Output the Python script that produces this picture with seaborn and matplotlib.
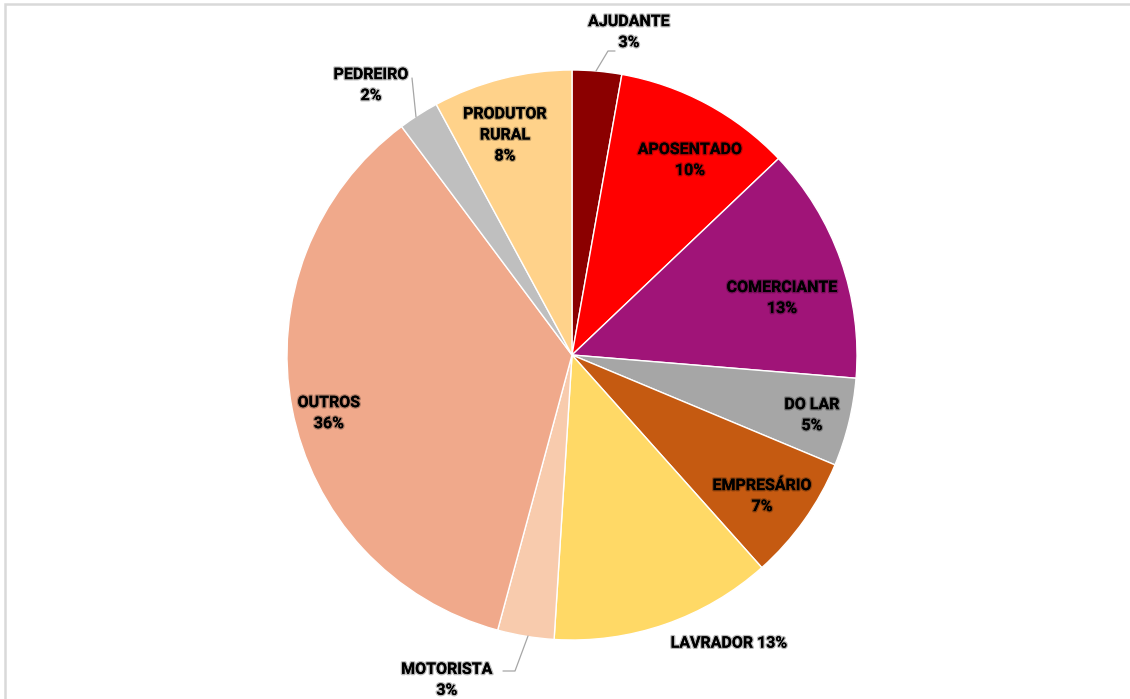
import matplotlib
matplotlib.use("Agg")
import matplotlib.pyplot as plt
import matplotlib.patheffects as pe
from matplotlib.patches import Rectangle
import seaborn as sns

# Occupation shares (percent), clockwise from 12 o'clock
categories = ["AJUDANTE", "APOSENTADO", "COMERCIANTE", "DO LAR", "EMPRESÁRIO",
              "LAVRADOR", "MOTORISTA", "OUTROS", "PEDREIRO", "PRODUTOR\nRURAL"]
shares = [2.8, 10.1, 13.4, 5.0, 7.1, 12.6, 3.2, 35.6, 2.3, 7.9]
colors = ["#8B0000", "#FF0000", "#A01478", "#A6A6A6", "#C55A11",
          "#FFD966", "#F8CBAD", "#F0A98B", "#BFBFBF", "#FFD28A"]

# label placement (data coords, pie radius = 1)
label_pos = [(0.20, 1.133), (0.414, 0.684), (0.737, 0.200), (0.842, -0.211),
             (0.667, -0.495), (0.551, -1.011), (-0.439, -1.140), (-0.853, -0.204),
             (-0.705, 0.947), (-0.235, 0.772)]
one_line = {"LAVRADOR"}

sns.set_theme(style="white")
plt.rcParams['font.family'] = ['Liberation Sans Narrow', 'Roboto', 'DejaVu Sans']

fig = plt.figure(figsize=(11.3, 6.99), dpi=100)
ax = fig.add_axes([0, 0, 1, 1])

ax.pie(shares, colors=colors, startangle=90, counterclock=False, radius=1.0,
       wedgeprops=dict(edgecolor='white', linewidth=1.0))
# map data units so that the pie sits at pixel (572, 355) with radius 285
ax.set_aspect('auto')
ax.set_xlim(-572 / 285, (1130 - 572) / 285)
ax.set_ylim((355 - 699) / 285, 355 / 285)
ax.axis('off')

glow = [pe.withStroke(linewidth=2.0, foreground='#00000045')]
for cat, val, (lx, ly) in zip(categories, shares, label_pos):
    sep = " " if cat in one_line else "\n"
    ax.text(lx, ly, f"{cat}{sep}{val:.0f}%", ha='center', va='center',
            fontsize=11.5, fontweight='bold', color='black',
            linespacing=1.5, path_effects=glow)

# leader lines for the small outside labels
def px(x, y):
    return (x - 572) / 285, (355 - y) / 285

leaders = [[(596, 71), (608, 51), (615, 51)],
           [(416, 117), (412, 78)],
           [(528, 636), (515, 671), (503, 671)]]
for pts in leaders:
    xs, ys = zip(*[px(*p) for p in pts])
    ax.plot(xs, ys, color='#A6A6A6', linewidth=0.9)

# chart frame (right/bottom edges fall outside the image)
fig.patches.append(Rectangle((4.5 / 1130, -0.1), 1.2, (699 - 4.5) / 699 + 0.1,
                             transform=fig.transFigure, fill=False,
                             edgecolor='#D9D9D9', linewidth=1.8))

fig.savefig('out.png', dpi=100, facecolor='white')
